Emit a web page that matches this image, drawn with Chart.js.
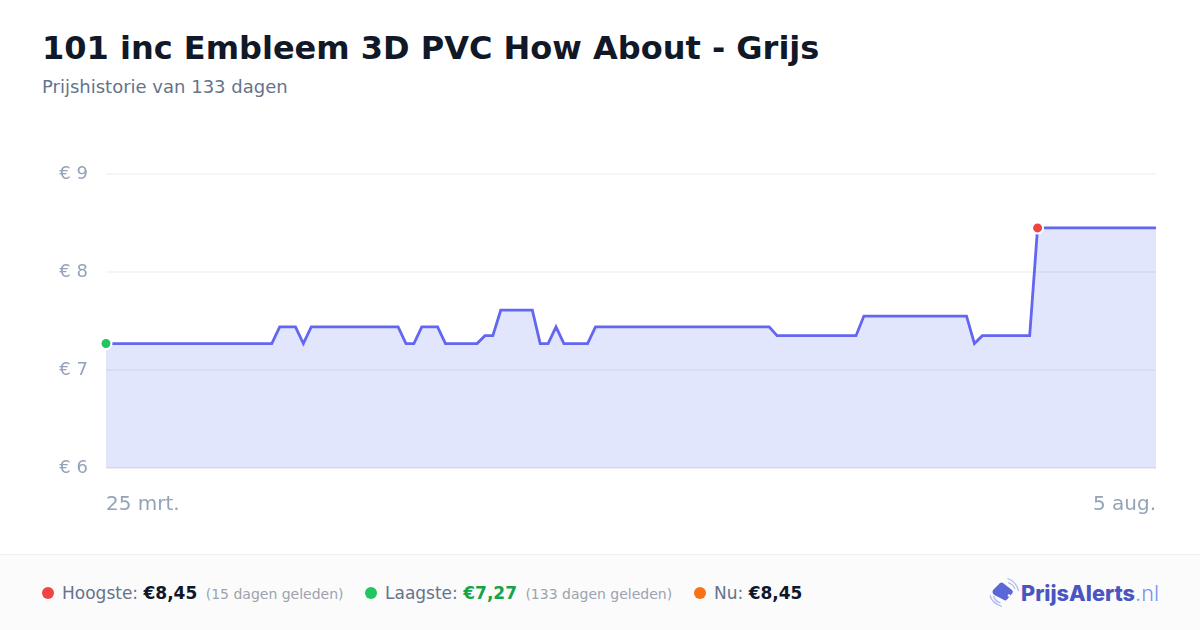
<!DOCTYPE html>
<html lang="nl">
<head>
<meta charset="utf-8">
<title>Prijshistorie</title>
<script src="https://cdn.jsdelivr.net/npm/chart.js@4"></script>
<style>
  * { box-sizing: border-box; }
  body { margin: 0; width: 1200px; height: 630px; background: #fff; overflow: hidden; position: relative; font-family: "DejaVu Sans", sans-serif; }
  h1 { position: absolute; left: 42px; top: 29px; margin: 0; font-size: 32px; line-height: 38px; font-weight: 700; color: #111827; white-space: nowrap; }
  .sub { position: absolute; left: 42px; top: 76px; font-size: 18px; line-height: 22px; color: #64748b; }
  #priceChart { position: absolute; left: 0; top: 140px; }
  .footer { position: absolute; left: 0; top: 554px; width: 1200px; height: 76px; background: #fbfbfb; border-top: 1px solid #f1f1f3; }
  .stat { position: absolute; top: 28px; font-size: 17px; line-height: 20px; color: #64748b; white-space: nowrap; }
  .stat b { color: #0f172a; }
  .stat b.low { color: #16a34a; }
  .stat small { font-size: 14px; color: #9ca3af; margin-left: 3px; }
  .dot { position: absolute; top: 32px; width: 12px; height: 12px; border-radius: 50%; }
  .logo { position: absolute; left: 985px; top: 19px; }
  .brand { position: absolute; left: 1021px; top: 25px; font-family: Inter, sans-serif; font-size: 21.7px; line-height: 27px; font-weight: 800; color: #4a55c2; white-space: nowrap; }
  .brand span { font-weight: 300; color: #7c93ee; }
</style>
</head>
<body>
<h1>101 inc Embleem 3D PVC How About - Grijs</h1>
<div class="sub">Prijshistorie van 133 dagen</div>
<canvas id="priceChart" width="1200" height="400"></canvas>
<div class="footer">
  <span class="dot" style="left:42px;background:#ef4444"></span>
  <span class="stat" style="left:62px">Hoogste: <b>€8,45</b> <small>(15 dagen geleden)</small></span>
  <span class="dot" style="left:365px;background:#22c55e"></span>
  <span class="stat" style="left:385px">Laagste: <b class="low">€7,27</b> <small>(133 dagen geleden)</small></span>
  <span class="dot" style="left:694px;background:#f97316"></span>
  <span class="stat" style="left:714px">Nu: <b>€8,45</b></span>
  <svg class="logo" width="40" height="36" viewBox="0 0 40 36">
    <path d="M8 16 L15 9 Q16.500 8 18 9 L27 16 Q28.500 17.500 27.500 19 L22 25.500 Q20.500 27 19 26 L9.500 21 Q6.500 19 8 16 Z" fill="#5b67d6"/>
    <circle cx="24" cy="21.500" r="1.300" fill="#fbfbfb"/>
    <path d="M22.500 4.500 Q31 7 33.500 17 M23 8.500 Q28 10 30 15" fill="none" stroke="#a9b6f2" stroke-width="1.200"/>
    <path d="M5 21.500 Q7 29 17 32.500 M8.500 22 Q10 27 15.500 29" fill="none" stroke="#a9b6f2" stroke-width="1.200"/>
  </svg>
  <div class="brand">PrijsAlerts<span>.nl</span></div>
</div>

<script>
/* Chart data */
const dayLabels = [
  "25 mrt.", "26 mrt.", "27 mrt.", "28 mrt.", "29 mrt.", "30 mrt.", "31 mrt.",
  "1 apr.", "2 apr.", "3 apr.", "4 apr.", "5 apr.", "6 apr.", "7 apr.", "8 apr.", "9 apr.", "10 apr.",
  "11 apr.", "12 apr.", "13 apr.", "14 apr.", "15 apr.", "16 apr.", "17 apr.", "18 apr.", "19 apr.", "20 apr.",
  "21 apr.", "22 apr.", "23 apr.", "24 apr.", "25 apr.", "26 apr.", "27 apr.", "28 apr.", "29 apr.", "30 apr.",
  "1 mei", "2 mei", "3 mei", "4 mei", "5 mei", "6 mei", "7 mei", "8 mei", "9 mei", "10 mei",
  "11 mei", "12 mei", "13 mei", "14 mei", "15 mei", "16 mei", "17 mei", "18 mei", "19 mei", "20 mei",
  "21 mei", "22 mei", "23 mei", "24 mei", "25 mei", "26 mei", "27 mei", "28 mei", "29 mei", "30 mei", "31 mei",
  "1 jun.", "2 jun.", "3 jun.", "4 jun.", "5 jun.", "6 jun.", "7 jun.", "8 jun.", "9 jun.", "10 jun.",
  "11 jun.", "12 jun.", "13 jun.", "14 jun.", "15 jun.", "16 jun.", "17 jun.", "18 jun.", "19 jun.", "20 jun.",
  "21 jun.", "22 jun.", "23 jun.", "24 jun.", "25 jun.", "26 jun.", "27 jun.", "28 jun.", "29 jun.", "30 jun.",
  "1 jul.", "2 jul.", "3 jul.", "4 jul.", "5 jul.", "6 jul.", "7 jul.", "8 jul.", "9 jul.", "10 jul.",
  "11 jul.", "12 jul.", "13 jul.", "14 jul.", "15 jul.", "16 jul.", "17 jul.", "18 jul.", "19 jul.", "20 jul.",
  "21 jul.", "22 jul.", "23 jul.", "24 jul.", "25 jul.", "26 jul.", "27 jul.", "28 jul.", "29 jul.", "30 jul.", "31 jul.",
  "1 aug.", "2 aug.", "3 aug.", "4 aug.", "5 aug.",
];

const prices = [
  7.27, 7.27, 7.27, 7.27, 7.27, 7.27, 7.27, 7.27, 7.27, 7.27,
  7.27, 7.27, 7.27, 7.27, 7.27, 7.27, 7.27, 7.27, 7.27, 7.27,
  7.27, 7.27, 7.44, 7.44, 7.44, 7.27, 7.44, 7.44, 7.44, 7.44,
  7.44, 7.44, 7.44, 7.44, 7.44, 7.44, 7.44, 7.44, 7.27, 7.27,
  7.44, 7.44, 7.44, 7.27, 7.27, 7.27, 7.27, 7.27, 7.35, 7.35,
  7.61, 7.61, 7.61, 7.61, 7.61, 7.27, 7.27, 7.44, 7.27, 7.27,
  7.27, 7.27, 7.44, 7.44, 7.44, 7.44, 7.44, 7.44, 7.44, 7.44,
  7.44, 7.44, 7.44, 7.44, 7.44, 7.44, 7.44, 7.44, 7.44, 7.44,
  7.44, 7.44, 7.44, 7.44, 7.44, 7.35, 7.35, 7.35, 7.35, 7.35,
  7.35, 7.35, 7.35, 7.35, 7.35, 7.35, 7.55, 7.55, 7.55, 7.55,
  7.55, 7.55, 7.55, 7.55, 7.55, 7.55, 7.55, 7.55, 7.55, 7.55,
  7.27, 7.35, 7.35, 7.35, 7.35, 7.35, 7.35, 7.35, 8.45, 8.45,
  8.45, 8.45, 8.45, 8.45, 8.45, 8.45, 8.45, 8.45, 8.45, 8.45,
  8.45, 8.45, 8.45, 8.45,
];

const yTicks = [6, 7, 8, 9];
const lowIndex = 0;
const highIndex = 118;

/* Chart config */
const ctx = document.getElementById("priceChart").getContext("2d");

const pointSize = (c) => (c.dataIndex === lowIndex || c.dataIndex === highIndex ? 5.5 : 0);
const pointFill = (c) => (c.dataIndex === lowIndex ? "#22c55e" : "#ef4444");

new Chart(ctx, {
  type: "line",
  data: {
    labels: dayLabels,
    datasets: [
      {
        data: prices,
        borderColor: "#6366f1",
        borderWidth: 2.8,
        backgroundColor: "rgba(48, 80, 242, 0.145)",
        fill: "start",
        tension: 0,
        pointRadius: pointSize,
        pointHoverRadius: pointSize,
        pointBackgroundColor: pointFill,
        pointBorderColor: "#ffffff",
        pointBorderWidth: 2,
        clip: false,
      },
    ],
  },
  options: {
    responsive: false,
    animation: false,
    layout: { padding: { top: 34, right: 44, bottom: 0, left: 0 } },
    plugins: { legend: { display: false }, tooltip: { enabled: false } },
    scales: {
      x: {
        grid: { display: false },
        border: { display: false },
        afterFit: (scale) => { scale.height = 72; },
        ticks: {
          autoSkip: false,
          maxRotation: 0,
          align: "inner",
          padding: 17,
          color: "#94a3b8",
          font: { family: "DejaVu Sans", size: 20 },
          callback: function (value, index) {
            return index === 0 || index === dayLabels.length - 1 ? dayLabels[index] : null;
          },
        },
      },
      y: {
        min: 6,
        max: 9,
        afterFit: (scale) => { scale.width = 106; },
        afterBuildTicks: (scale) => { scale.ticks = yTicks.map((v) => ({ value: v })); },
        grid: {
          color: (c) => (c.tick.value === 6 ? "rgba(15, 23, 42, 0.07)" : "rgba(15, 23, 42, 0.045)"),
          lineWidth: 2,
          drawTicks: false,
          z: 1,
        },
        border: { display: false },
        ticks: {
          padding: 18,
          color: "#94a3b8",
          font: { family: "DejaVu Sans", size: 18 },
          callback: (value) => "€ " + value,
        },
      },
    },
  },
});
</script>
</body>
</html>
